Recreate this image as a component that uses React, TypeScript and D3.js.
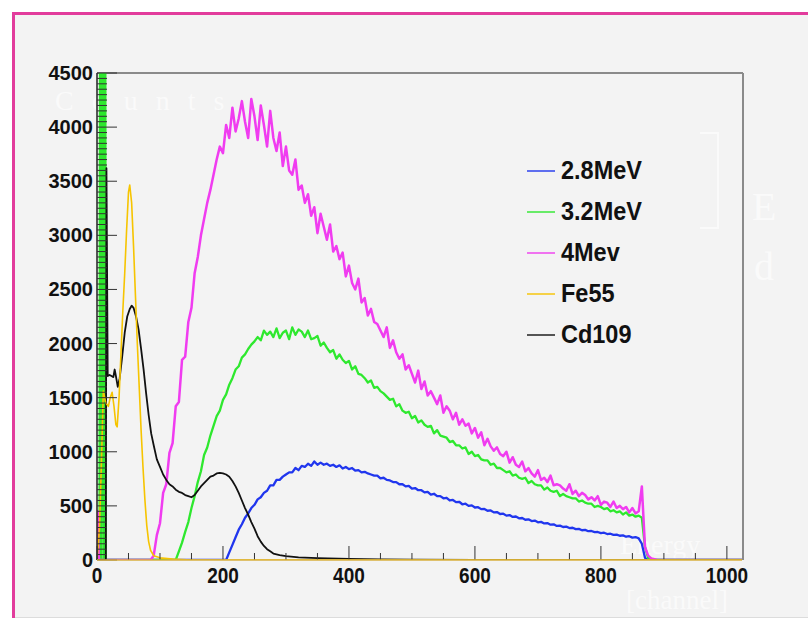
import React from "react";
import * as d3 from "d3";

type Pt = [number, number];

// ---------- data ----------
const CH_STEP = 5;
const CH_MAX = 1024;
const xMajorTicks = [0, 200, 400, 600, 800, 1000];
const yMajorTicks = [0, 500, 1000, 1500, 2000, 2500, 3000, 3500, 4000, 4500];
const seriesNames = ["2.8MeV", "3.2MeV", "4Mev", "Fe55", "Cd109"];
const seriesColors = ["#2036ee", "#2ee82e", "#f03cf0", "#f6c400", "#111111"];

// 2.8MeV (blue): counts on a 5-channel grid from channel 205
const blueStart = 205;
const blueCounts = [
  0, 70, 140, 210, 280, 330, 390, 430, 480, 510,
  560, 580, 620, 640, 690, 690, 740, 740, 770, 790,
  810, 810, 850, 830, 870, 860, 890, 870, 910, 880,
  900, 880, 890, 870, 880, 860, 875, 845, 860, 840,
  850, 825, 830, 810, 815, 800, 790, 780, 780, 755,
  760, 740, 735, 720, 720, 700, 700, 680, 685, 660,
  665, 645, 645, 625, 630, 605, 612, 590, 590, 570,
  575, 550, 555, 535, 538, 515, 520, 500, 505, 485,
  488, 470, 472, 455, 458, 440, 443, 425, 428, 410,
  415, 398, 402, 385, 388, 372, 376, 360, 364, 348,
  352, 338, 341, 326, 330, 315, 318, 305, 308, 295,
  298, 285, 288, 275, 278, 266, 268, 258, 259, 248,
  252, 240, 243, 232, 235, 224, 228, 215, 220, 207,
  212, 200, 150,
];
const blueEdges: Pt[] = [[870, 20], [875, 0]];

// 3.2MeV (green)
const greenSpike: Pt[] = [[0, 0], [4, 0], [5, 6000], [7, 0], [9, 6000], [11, 0], [13, 6000], [14, 0]];
const greenStart = 125;
const greenCounts = [
  0, 80, 160, 260, 350, 480, 590, 720, 820, 970,
  1040, 1150, 1240, 1330, 1380, 1480, 1530, 1620, 1680, 1760,
  1790, 1870, 1900, 1950, 1990, 2020, 2060, 2030, 2120, 2080,
  2110, 2060, 2140, 2050, 2100, 2120, 2040, 2150, 2080, 2130,
  2110, 2060, 2120, 2040, 2050, 2070, 1980, 2010, 1960, 1920,
  1940, 1860, 1900, 1850, 1820, 1840, 1760, 1790, 1720, 1710,
  1680, 1640, 1660, 1590, 1600, 1560, 1540, 1510, 1480, 1490,
  1420, 1440, 1380, 1360, 1370, 1310, 1330, 1270, 1290, 1250,
  1230, 1240, 1170, 1200, 1150, 1140, 1130, 1090, 1100, 1060,
  1060, 1030, 1040, 980, 1000, 960, 970, 930, 920, 920,
  880, 890, 850, 850, 830, 810, 820, 780, 790, 760,
  750, 760, 710, 730, 700, 690, 690, 650, 670, 640,
  630, 640, 590, 610, 590, 580, 570, 570, 540, 550,
  530, 520, 520, 490, 500, 490, 470, 480, 450, 460,
  440, 450, 420, 440, 410, 420, 400, 410, 390,
];
const greenEdges: Pt[] = [[870, 120], [875, 20], [880, 0]];

// 4Mev (magenta)
const magentaLowEdge: Pt[] = [[0, 0], [1, 450], [3, 0]];
const magentaStart = 85;
const magentaCounts = [
  0, 40, 230, 340, 620, 700, 990, 1080, 1420, 1460,
  1850, 1880, 2200, 2330, 2650, 2800, 3000, 3150, 3300, 3420,
  3560, 3700, 3820, 3760, 4020, 3900, 4180, 3960, 4080, 4240,
  4050, 3900, 4260, 4100, 3880, 4200, 4020, 3820, 4150, 3900,
  3780, 3950, 3640, 3820, 3600, 3560, 3700, 3420, 3460, 3300,
  3380, 3180, 3260, 3020, 3200, 3080, 2960, 3100, 2850, 2900,
  2780, 2840, 2620, 2720, 2560, 2500, 2600, 2380, 2420, 2260,
  2320, 2200, 2180, 2120, 2060, 2150, 1960, 2030, 1920, 1860,
  1900, 1760, 1800, 1720, 1640, 1750, 1580, 1650, 1520, 1560,
  1500, 1440, 1520, 1360, 1420, 1380, 1300, 1360, 1250, 1300,
  1240, 1260, 1170, 1220, 1130, 1180, 1060, 1120, 1050, 1010,
  1040, 980, 960, 1000, 900, 950, 880, 860, 910, 820,
  850, 800, 770, 830, 740, 760, 720, 780, 690, 700,
  690, 660, 640, 700, 610, 640, 590, 620, 600, 560,
  580, 550, 590, 510, 540, 530, 490, 540, 480, 500,
  470, 490, 440, 480, 430, 450,
];
const magentaEdges: Pt[] = [[865, 680], [870, 120], [875, 40], [880, 15], [890, 0]];

// Fe55 (yellow)
const fe55: Pt[] = [
  [0, 0], [4, 300], [7, 900], [10, 1560], [14, 1450], [18, 1420], [21, 1500], [24, 1550],
  [27, 1420], [30, 1250], [32, 1230], [35, 1500], [38, 1900], [41, 2300], [44, 2650],
  [47, 3050], [50, 3400], [52, 3465], [55, 3300], [58, 2900], [61, 2450], [64, 2000],
  [67, 1600], [70, 1200], [73, 860], [76, 560], [79, 320], [82, 170], [85, 90], [90, 40],
  [100, 20], [120, 8], [150, 0], [1024, 0],
];

// Cd109 (black)
const cd109: Pt[] = [
  [0, 0], [14, 0], [15, 3620], [17, 1700], [20, 1710], [23, 1700], [26, 1690], [28, 1760],
  [30, 1700], [33, 1600], [36, 1680], [40, 1880], [44, 2100], [48, 2250], [52, 2320],
  [55, 2350], [58, 2330], [62, 2250], [66, 2130], [70, 1950], [74, 1760], [78, 1540],
  [82, 1340], [86, 1170], [90, 1060], [95, 930], [100, 860], [105, 790], [110, 740],
  [115, 700], [120, 680], [125, 650], [130, 630], [135, 620], [140, 600], [145, 590],
  [150, 580], [155, 600], [160, 640], [165, 680], [170, 710], [175, 740], [180, 770],
  [185, 780], [190, 800], [195, 805], [200, 800], [205, 790], [210, 770], [215, 730],
  [220, 680], [225, 620], [230, 550], [235, 480], [240, 420], [245, 350], [250, 290],
  [255, 220], [260, 170], [265, 130], [270, 100], [275, 80], [280, 60], [290, 45],
  [300, 35], [320, 25], [350, 18], [400, 10], [450, 6], [500, 3], [600, 1], [1024, 0],
];

const grid = (start: number, counts: number[]): Pt[] =>
  counts.map((c, i) => [start + i * CH_STEP, c] as Pt);

const bluePts: Pt[] = [[0, 0], ...grid(blueStart, blueCounts), ...blueEdges, [CH_MAX, 0]];
const greenPts: Pt[] = [...greenSpike, ...grid(greenStart, greenCounts), ...greenEdges, [CH_MAX, 0]];
const magentaPts: Pt[] = [...magentaLowEdge, ...grid(magentaStart, magentaCounts), ...magentaEdges, [CH_MAX, 0]];

// ---------- chart ----------
export default function App() {
  const left = 97, right = 742, top = 73, bottom = 560;
  const x = d3.scaleLinear().domain([0, CH_MAX]).range([left, right]);
  const y = d3.scaleLinear().domain([0, 4500]).range([bottom, top]);
  const line = d3.line<Pt>().x((d) => x(d[0])).y((d) => y(d[1]));

  const xMinor = d3.range(0, 1001, 50).filter((v) => !xMajorTicks.includes(v));
  const yMinor = d3.range(0, 4501, 50).filter((v) => !yMajorTicks.includes(v));

  const font = "'Liberation Sans', Arial, Helvetica, sans-serif";
  const serif = "'Liberation Serif', 'DejaVu Serif', serif";

  const draws: { pts: Pt[]; color: string; w: number }[] = [
    { pts: bluePts, color: seriesColors[0], w: 2.3 },
    { pts: greenPts, color: seriesColors[1], w: 2.3 },
    { pts: magentaPts, color: seriesColors[2], w: 2.5 },
    { pts: cd109, color: seriesColors[4], w: 1.8 },
    { pts: fe55, color: seriesColors[3], w: 1.6 },
  ];

  return (
    <svg
      width={808}
      height={621}
      style={{ position: "absolute", left: 0, top: 0, background: "#ffffff" }}
    >
      <defs>
        <clipPath id="plotClip">
          <rect x={left} y={top} width={right - left} height={bottom - top} />
        </clipPath>
      </defs>
      {/* canvas panel */}
      <rect x={12} y={12} width={808} height={606} fill="#f3f3f3" />
      <line x1={12} y1={617.5} x2={808} y2={617.5} stroke="#dcdcdc" strokeWidth={1} />
      <line x1={12} y1={13.5} x2={808} y2={13.5} stroke="#e23c9c" strokeWidth={3} />
      <line x1={13.5} y1={12} x2={13.5} y2={618} stroke="#e23c9c" strokeWidth={3} />

      {/* faint ghost titles */}
      <g fill="#ffffff" opacity={0.6} fontFamily={serif}>
        <text x={55} y={110} fontSize={28} letterSpacing={18}>Counts</text>
        <text x={620} y={554} fontSize={28}>Energy</text>
        <text x={626} y={609} fontSize={27}>[channel]</text>
        <text x={752} y={220} fontSize={40}>E</text>
        <text x={754} y={280} fontSize={40}>d</text>
        <path d="M700,133 L718,133 L718,228 L700,228" fill="none" stroke="#ffffff" strokeWidth={2} />
      </g>

      {/* frame */}
      <line x1={left} y1={top} x2={right + 1} y2={top} stroke="#8a8a8a" strokeWidth={2} />
      <line x1={right + 1} y1={top} x2={right + 1} y2={bottom} stroke="#8a8a8a" strokeWidth={2} />

      {/* curves */}
      <g clipPath="url(#plotClip)" fill="none" strokeLinejoin="round">
        {draws.map((s, i) => (
          <path key={i} d={line(s.pts) || ""} stroke={s.color} strokeWidth={s.w} />
        ))}
      </g>

      {/* y axis */}
      <line x1={left} y1={top} x2={left} y2={bottom} stroke="#222" strokeWidth={1.5} />
      {yMajorTicks.map((v) => (
        <line key={"ym" + v} x1={left} x2={left + 20} y1={y(v)} y2={y(v)} stroke="#333" strokeWidth={1} />
      ))}
      {yMinor.map((v) => (
        <line key={"yn" + v} x1={left} x2={left + 10} y1={y(v)} y2={y(v)} stroke="#333" strokeWidth={1} />
      ))}
      {yMajorTicks.map((v) => (
        <text key={"yl" + v} x={93} y={y(v) + 7} textAnchor="end" fontSize={20} fontWeight="bold"
          fontFamily={font} fill="#111">{v}</text>
      ))}

      {/* x axis */}
      {xMajorTicks.map((v) => (
        <line key={"xm" + v} x1={x(v)} x2={x(v)} y1={bottom} y2={bottom - 14} stroke="#333" strokeWidth={1} />
      ))}
      {xMinor.map((v) => (
        <line key={"xn" + v} x1={x(v)} x2={x(v)} y1={bottom} y2={bottom - 7} stroke="#333" strokeWidth={1} />
      ))}
      <line x1={left} y1={bottom} x2={right} y2={bottom} stroke="#d8b040" strokeWidth={1.5} />
      {xMajorTicks.map((v) => (
        <text key={"xl" + v} transform={`translate(${x(v)},583) scale(1,1.2)`} textAnchor="middle"
          fontSize={19} fontWeight="bold" fontFamily={font} fill="#111">{v}</text>
      ))}

      {/* legend */}
      {seriesNames.map((name, i) => {
        const yy = 171 + i * 41;
        return (
          <g key={name}>
            <line x1={527} x2={555} y1={yy} y2={yy} stroke={seriesColors[i]} strokeWidth={2} opacity={0.7} />
            <text transform={`translate(561,${yy + 8}) scale(1,1.08)`} fontSize={23.5} fontWeight="bold"
              fontFamily={font} fill="#111">{name}</text>
          </g>
        );
      })}
    </svg>
  );
}
